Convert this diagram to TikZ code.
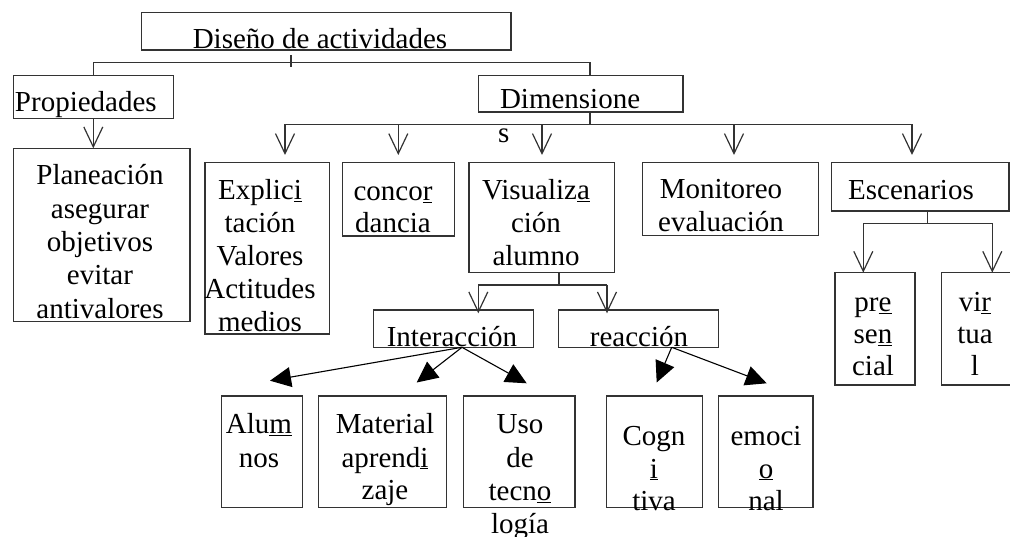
\documentclass[tikz,border=0pt]{standalone}
\usepackage{fontspec}
\setmainfont{Liberation Serif}
\usetikzlibrary{arrows.meta,calc}
\newcommand{\mlines}[2][33]{{\fontsize{29}{#1}\selectfont\begin{tabular}[t]{@{}c@{}}#2\end{tabular}}}
\begin{document}
\begin{tikzpicture}[x=1pt,y=-1pt,
  box/.style={draw=black!80, line width=1.2pt, inner sep=0pt, outer sep=0pt, anchor=north west},
  txt/.style={inner sep=0pt, outer sep=0pt, anchor=base, font=\fontsize{29}{33}\selectfont},
  ln/.style={draw=black!80, line width=1.2pt},
  varr/.style={ln, -{Straight Barb[length=20pt,width=19pt]}},
  tarr/.style={draw=black, line width=1.1pt, -{Triangle[length=21pt,width=20pt]}}]
\useasboundingbox (0,0) rectangle (1010,537);
\clip (0,0) rectangle (1010,537);
% boxes
\node[box, minimum width=369.5pt, minimum height=37.3pt] (dis) at (141.5,12.7) {};
\node[box, minimum width=160pt, minimum height=42.6pt] (prop) at (13.3,75.7) {};
\node[box, minimum width=204.7pt, minimum height=36.3pt] (dim) at (478.3,75.7) {};
\node[box, minimum width=176.7pt, minimum height=173.4pt] (plan) at (13.3,148.3) {};
\node[box, minimum width=124.3pt, minimum height=171.7pt] (expl) at (205,162.3) {};
\node[box, minimum width=111.6pt, minimum height=73.7pt] (conc) at (342.7,162.3) {};
\node[box, minimum width=145.4pt, minimum height=110.4pt] (vis) at (469,162.3) {};
\node[box, minimum width=175.8pt, minimum height=73.4pt] (mon) at (642.7,162.3) {};
\node[box, minimum width=177.3pt, minimum height=48.7pt] (esc) at (831.7,162.3) {};
\node[box, minimum width=80pt, minimum height=112.3pt] (pres) at (835,272.7) {};
\node[box, minimum width=72pt, minimum height=112.3pt] (virt) at (941.7,272.7) {};
\node[box, minimum width=160pt, minimum height=37.3pt] (inter) at (373.3,310) {};
\node[box, minimum width=160pt, minimum height=37.3pt] (reac) at (558.3,310) {};
\node[box, minimum width=81pt, minimum height=111.7pt] (alum) at (221.7,396) {};
\node[box, minimum width=128.4pt, minimum height=111.7pt] (mat) at (318.3,396) {};
\node[box, minimum width=111.7pt, minimum height=111.7pt] (uso) at (463.3,396) {};
\node[box, minimum width=95.6pt, minimum height=111.7pt] (cogn) at (606.7,396) {};
\node[box, minimum width=94.7pt, minimum height=111.7pt] (emoc) at (718.3,396) {};
% texts
\node[txt] (tdis) at (320,49) {Diseño de actividades};
\node[txt, anchor=base west] (tprop) at (15,112) {Propiedades};
\node[txt, anchor=base west] (tdim) at (500,109) {Dimensione};
\node[txt, anchor=base west] (tdims) at (498,143) {s};
\node[txt] (tplan) at (100,185) {\mlines[33.3]{Planeación\\asegurar\\objetivos\\evitar\\antivalores}};
\node[txt] (texpl) at (260,200) {\mlines{Explic\underline{i}\\tación\\Valores\\Actitudes\\medios}};
\node[txt] (tconc) at (393,201) {\mlines[32]{conco\underline{r}\\dancia}};
\node[txt] (tvis) at (536,200) {\mlines{Visualiz\underline{a}\\ción\\alumno}};
\node[txt] (tmon) at (721,199) {\mlines{Monitoreo\\evaluación}};
\node[txt] (tesc) at (911,200) {Escenarios};
\node[txt] (tpres) at (873,312) {\mlines[31.7]{pr\underline{e}\\se\underline{n}\\cial}};
\node[txt] (tvirt) at (975,312) {\mlines[31.7]{vi\underline{r}\\tua\\l}};
\node[txt] (tinter) at (452,347) {Interacción};
\node[txt] (treac) at (639,347) {reacción};
\node[txt] (talum) at (259,434) {\mlines{Alu\underline{m}\\nos}};
\node[txt] (tmat) at (385,434) {\mlines{Material\\aprend\underline{i}\\zaje}};
\node[txt] (tuso) at (520,434) {\mlines[33.3]{Uso\\de\\tecn\underline{o}\\logía}};
\node[txt] (tcogn) at (654,445) {\mlines{Cogn\\\underline{i}\\tiva}};
\node[txt] (temoc) at (766,445) {\mlines{emoci\\\underline{o}\\nal}};
% top connectors
\coordinate (hub1) at (291,62.3);
\draw[ln] (hub1) ++(0,-7.3) -- ++(0,12);
\draw[ln] (prop.north) |- (hub1) -| ([xshift=9.4pt]dim.north);
\draw[varr] (prop.south) -- (prop.south |- plan.north);
% dimensiones
\draw[ln] ([xshift=9.4pt]dim.south) -- ++(0,12.3) coordinate (hub2);
\coordinate (a1) at (285,124.3);
\coordinate (a2) at (398.3,124.3);
\coordinate (a3) at (542,124.3);
\coordinate (a4) at (734,124.3);
\coordinate (a5) at (912,124.3);
\draw[ln] (a1) -- (a5);
\foreach \a/\b in {a1/expl,a2/conc,a3/vis,a4/mon,a5/esc}
  \draw[varr, shorten >=7.3pt] (\a) -- (\a |- \b.north);
% visualizacion
\draw[ln] ([xshift=17.3pt]vis.south) -- ++(0,12.3) coordinate (hub3);
\coordinate (b1) at (478.3,285);
\coordinate (b2) at (607,285);
\draw[ln] (b1) -- (b2);
\draw[varr, shorten >=-3.3pt] (b1) -- (b1 |- inter.north);
\draw[varr, shorten >=-3.3pt] (b2) -- (b2 |- reac.north);
% escenarios
\draw[ln] ([xshift=7.35pt]esc.south) -- ++(0,12.3) coordinate (hub4);
\coordinate (c1) at (863.3,223.3);
\coordinate (c2) at (992.3,223.3);
\draw[ln] (c1) -- (c2);
\draw[varr] (c1) -- (c1 |- pres.north);
\draw[varr] (c2) -- (c2 |- virt.north);
% triangle arrows
\coordinate (ti1) at (270,380.7);
\coordinate (ti2) at (416.7,382.5);
\coordinate (ti3) at (526.7,383.3);
\draw[tarr] ([xshift=8.7pt]inter.south) -- (ti1);
\draw[tarr] ([xshift=8.7pt]inter.south) -- (ti2);
\draw[tarr] ([xshift=8.7pt]inter.south) -- (ti3);
\coordinate (tr1) at (656.7,382.5);
\coordinate (tr2) at (766.7,383.3);
\draw[tarr] ([xshift=33.4pt]reac.south) -- (tr1);
\draw[tarr] ([xshift=33.4pt]reac.south) -- (tr2);
\end{tikzpicture}
\end{document}
